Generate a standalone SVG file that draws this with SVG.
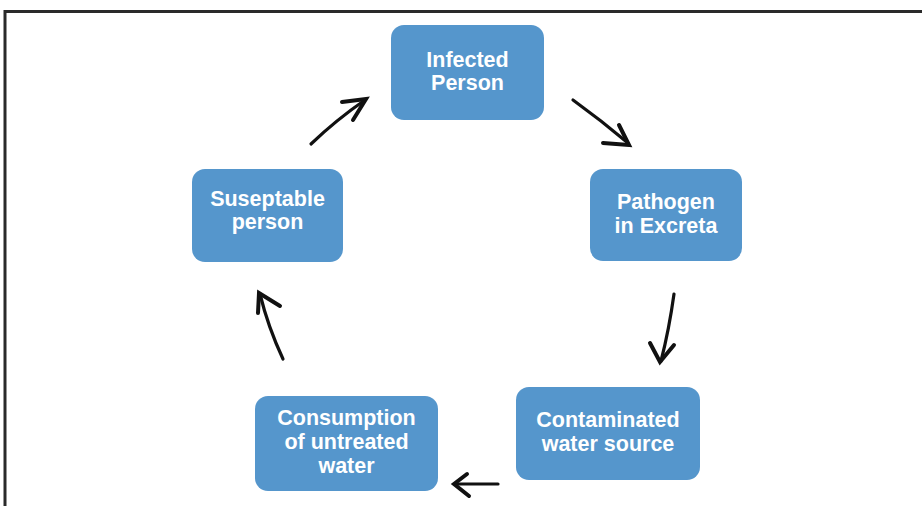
<svg xmlns="http://www.w3.org/2000/svg" width="922" height="506" viewBox="0 0 922 506">
  <style>
    .box { fill: #5596cc; }
    .lbl { font-family: "Liberation Sans", Arial, sans-serif; font-weight: bold; font-size: 21.5px; fill: #ffffff; text-anchor: middle; }
    .arr { fill: none; stroke: #111111; stroke-width: 3.2; stroke-linecap: round; stroke-linejoin: round; }
    .head { fill: none; stroke: #111111; stroke-width: 4; stroke-linecap: round; stroke-linejoin: miter; }
    .frame { fill: none; stroke: #2a2a2a; stroke-width: 3; }
  </style>
  <rect x="0" y="0" width="922" height="506" fill="#ffffff"/>
  <path class="frame" d="M5,506 V11.5 H922"/>

  <g id="infected-person">
    <rect class="box" x="391" y="25" width="153" height="95" rx="13"/>
    <text class="lbl" x="467.5" y="67">Infected</text>
    <text class="lbl" x="467.5" y="90">Person</text>
  </g>
  <g id="pathogen-in-excreta">
    <rect class="box" x="590" y="169" width="152" height="92" rx="13"/>
    <text class="lbl" x="666" y="209">Pathogen</text>
    <text class="lbl" x="666" y="233">in Excreta</text>
  </g>
  <g id="contaminated-water-source">
    <rect class="box" x="516" y="387" width="184" height="93" rx="13"/>
    <text class="lbl" x="608" y="427">Contaminated</text>
    <text class="lbl" x="608" y="451">water source</text>
  </g>
  <g id="consumption-of-untreated-water">
    <rect class="box" x="255" y="396" width="183" height="95" rx="13"/>
    <text class="lbl" x="346.5" y="425">Consumption</text>
    <text class="lbl" x="346.5" y="449">of untreated</text>
    <text class="lbl" x="346.5" y="473">water</text>
  </g>
  <g id="suseptable-person">
    <rect class="box" x="192" y="169" width="151" height="93" rx="13"/>
    <text class="lbl" x="267.5" y="206">Suseptable</text>
    <text class="lbl" x="267.5" y="229">person</text>
  </g>

  <g id="connectors">
    <path class="arr" d="M311,144 Q336,120 365,100"/>
    <path class="head" d="M342,102 L366,99 L353,120"/>

    <path class="arr" d="M573,100 Q602,121 628,143"/>
    <path class="head" d="M603,143 L629,145 L619,125"/>

    <path class="arr" d="M674,294 Q669,330 661,361"/>
    <path class="head" d="M650,343 L660,362 L674,345"/>

    <path class="arr" d="M498,484 L455,484"/>
    <path class="head" d="M467,474 L454,484 L469,496"/>

    <path class="arr" d="M283,359 Q268,327 260,294"/>
    <path class="head" d="M258,313 L259,293 L280,306"/>
  </g>
</svg>
